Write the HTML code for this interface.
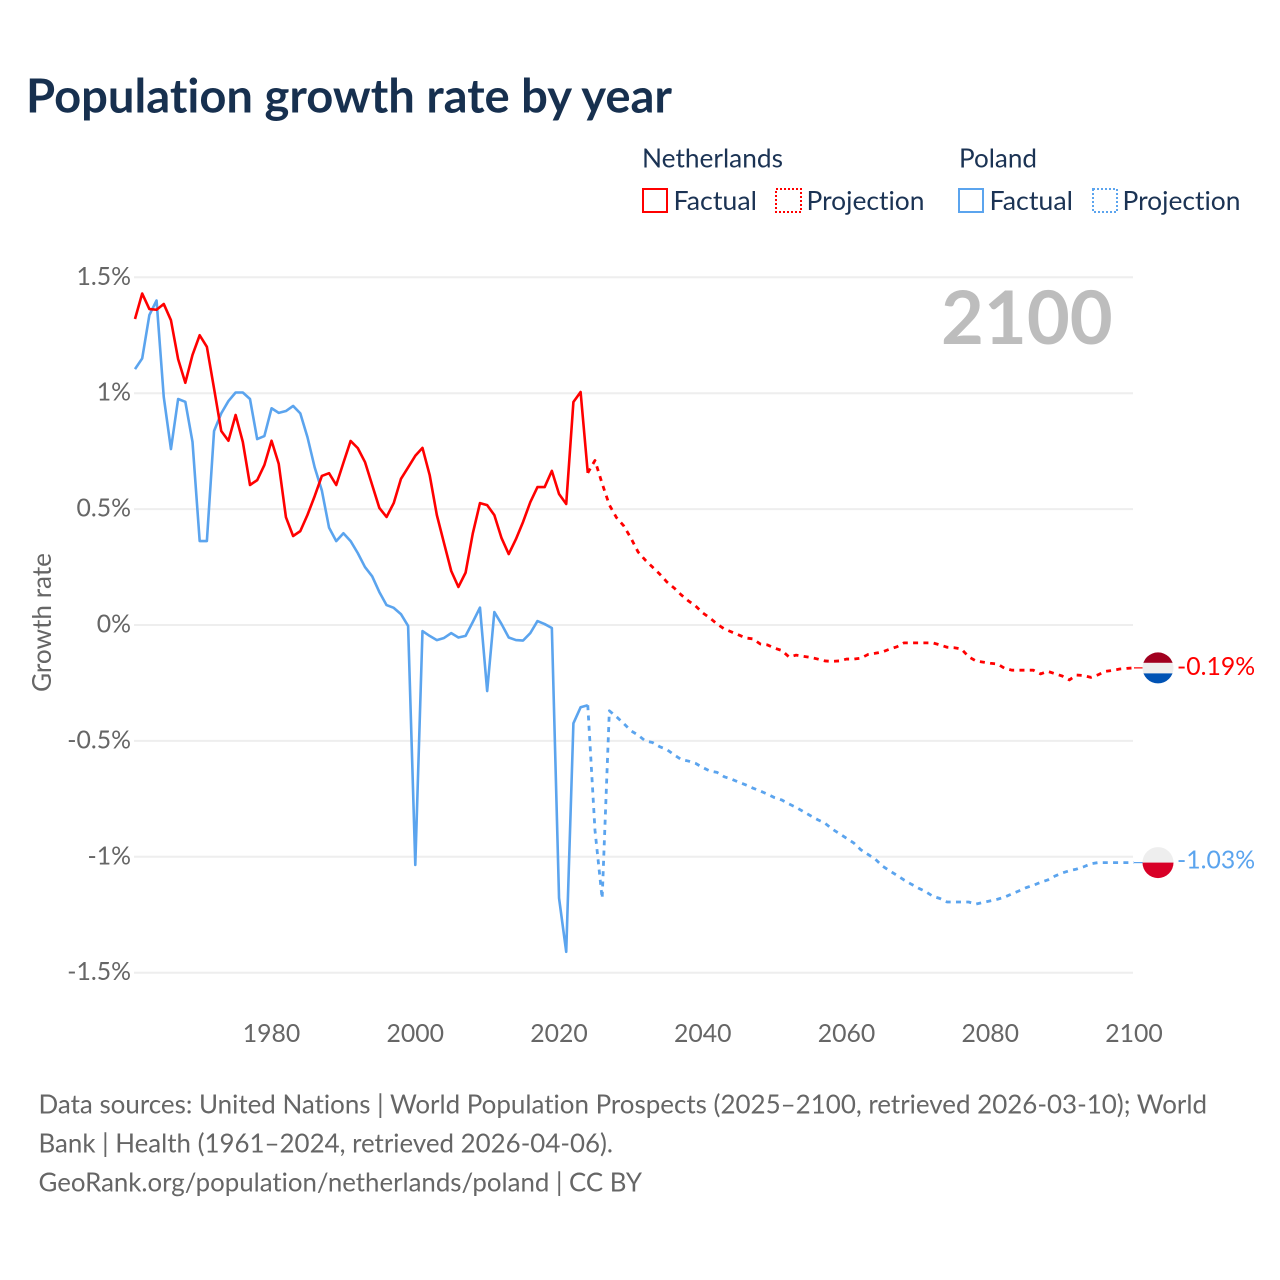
<!DOCTYPE html>
<html lang="en">
<head>
<meta charset="utf-8">
<title>Population growth rate by year</title>
<style>
html,body{margin:0;padding:0;background:#fff;}
svg{display:block;font-family:"Lato","Carlito","Liberation Sans",sans-serif;font-variant-ligatures:none;}
</style>
</head>
<body>
<svg id="chart" xmlns="http://www.w3.org/2000/svg" width="1280" height="1280" viewBox="0 0 1280 1280">
  <rect width="1280" height="1280" fill="#fff"/>
  <text x="26" y="112.5" font-size="47.2" font-weight="700" fill="#17304f" textLength="646" lengthAdjust="spacingAndGlyphs">Population growth rate by year</text>

  <g font-size="26.4" fill="#1b3354">
    <text x="642" y="167.5" textLength="141" lengthAdjust="spacingAndGlyphs">Netherlands</text>
    <rect x="643" y="189" width="24" height="23" fill="none" stroke="#ff0000" stroke-width="2"/>
    <text x="673.5" y="210" textLength="83.5" lengthAdjust="spacingAndGlyphs">Factual</text>
    <rect x="776" y="189" width="25" height="23" fill="none" stroke="#ff0000" stroke-width="2" stroke-dasharray="2 2"/>
    <text x="806.5" y="210" textLength="118" lengthAdjust="spacingAndGlyphs">Projection</text>
    <text x="959" y="167.5" textLength="78" lengthAdjust="spacingAndGlyphs">Poland</text>
    <rect x="959" y="189" width="24" height="23" fill="none" stroke="#5ba4ee" stroke-width="2"/>
    <text x="989.5" y="210" textLength="83.5" lengthAdjust="spacingAndGlyphs">Factual</text>
    <rect x="1093" y="189" width="24" height="23" fill="none" stroke="#5ba4ee" stroke-width="2" stroke-dasharray="2 2"/>
    <text x="1122.5" y="210" textLength="118" lengthAdjust="spacingAndGlyphs">Projection</text>
  </g>

  <g id="grid"></g>
  <g id="yticks" font-size="24.8" fill="#666"></g>
  <g id="xticks" font-size="24.8" fill="#666"></g>
  <text transform="translate(51,692) rotate(-90)" font-size="26.2" fill="#666" textLength="139" lengthAdjust="spacingAndGlyphs">Growth rate</text>
  <text x="941" y="344" font-size="74" font-weight="700" fill="#bdbdbd">2100</text>

  <g id="series"></g>

  <g id="nl-flag">
    <clipPath id="nl-clip"><circle cx="0" cy="0" r="15.5"/></clipPath>
    <g clip-path="url(#nl-clip)">
      <rect x="-16" y="-16" width="32" height="11" fill="#a1001f"/>
      <rect x="-16" y="-5" width="32" height="10.5" fill="#eeeeee"/>
      <rect x="-16" y="5.5" width="32" height="11" fill="#0052b4"/>
    </g>
  </g>
  <g id="pl-flag">
    <clipPath id="pl-clip"><circle cx="0" cy="0" r="15.5"/></clipPath>
    <g clip-path="url(#pl-clip)">
      <rect x="-16" y="-16" width="32" height="16" fill="#eeeeee"/>
      <rect x="-16" y="0" width="32" height="16" fill="#d80027"/>
    </g>
  </g>
  <text id="nl-end-label" x="1177" font-size="24.8" fill="#ff0000">-0.19%</text>
  <text id="pl-end-label" x="1177" font-size="24.8" fill="#5ba4ee">-1.03%</text>

  <g font-size="25.9" fill="#666">
    <text x="38.5" y="1113.5" textLength="1168.5" lengthAdjust="spacingAndGlyphs">Data sources: United Nations | World Population Prospects (2025–2100, retrieved 2026-03-10); World</text>
    <text x="38.5" y="1152.5" textLength="574.5" lengthAdjust="spacingAndGlyphs">Bank | Health (1961–2024, retrieved 2026-04-06).</text>
    <text x="38.5" y="1191.5" textLength="603.5" lengthAdjust="spacingAndGlyphs">GeoRank.org/population/netherlands/poland | CC BY</text>
  </g>
</svg>
<script>
const xTickYears = [1980, 2000, 2020, 2040, 2060, 2080, 2100];
const yTickValues = [1.5, 1, 0.5, 0, -0.5, -1, -1.5];
const yTickLabels = ["1.5%", "1%", "0.5%", "0%", "-0.5%", "-1%", "-1.5%"];
const factualStartYear = 1961;
const projectionStartYear = 2024;
const netherlandsFactual = [
  1.32,1.43,1.363,1.36,1.385,1.315,1.147,1.045,1.165,1.25,
  1.20,1.02,.837,.795,.906,.79,.604,.625,.69,.795,
  .695,.465,.384,.405,.475,.556,.643,.655,.604,.70,
  .794,.763,.703,.604,.505,.466,.526,.63,.68,.73,
  .764,.647,.474,.353,.233,.164,.226,.395,.526,.517,
  .474,.375,.306,.37,.445,.53,.595,.595,.665,.565,
  .522,.962,1.005,.656
];
const netherlandsProjection = [
  .656,.71,.61,.518,.463,.428,.375,.315,.28,.25,.22,.186,.16,.13,.104,.082,.052,.03,.004,-.017,
  -.03,-.043,-.056,-.06,-.082,-.086,-.10,-.11,-.138,-.13,-.135,-.14,-.147,-.155,-.157,-.155,-.147,-.147,-.143,-.127,
  -.122,-.116,-.104,-.094,-.077,-.077,-.077,-.077,-.077,-.086,-.096,-.098,-.104,-.137,-.155,-.16,-.165,-.168,-.187,-.195,
  -.195,-.195,-.195,-.211,-.2,-.21,-.22,-.237,-.216,-.218,-.226,-.215,-.2,-.196,-.19,-.187,-.185
];
const polandFactual = [
  1.104,1.15,1.337,1.40,.984,.759,.975,.963,.79,.362,
  .362,.837,.913,.966,1.003,1.003,.975,.802,.815,.935,
  .915,.923,.945,.913,.81,.68,.58,.42,.362,.396,
  .362,.31,.25,.21,.142,.086,.074,.047,-.004,-1.035,
  -.026,-.047,-.065,-.056,-.035,-.054,-.047,.013,.075,-.285,
  .056,.004,-.054,-.065,-.067,-.035,.017,.004,-.013,-1.178,
  -1.41,-.424,-.355,-.346
];
const polandProjection = [
  -.346,-.885,-1.18,-.37,-.396,-.425,-.456,-.475,-.5,-.507,-.525,-.537,-.56,-.58,-.587,-.597,-.615,-.63,-.636,-.655,
  -.665,-.678,-.69,-.704,-.716,-.73,-.745,-.755,-.772,-.787,-.805,-.823,-.84,-.855,-.88,-.90,-.92,-.94,-.97,-.99,
  -1.01,-1.04,-1.06,-1.08,-1.10,-1.118,-1.135,-1.15,-1.17,-1.18,-1.195,-1.195,-1.195,-1.195,-1.204,-1.197,-1.19,-1.183,-1.174,-1.16,
  -1.147,-1.133,-1.123,-1.11,-1.10,-1.083,-1.07,-1.06,-1.053,-1.043,-1.03,-1.025,-1.025,-1.025,-1.025,-1.025,-1.025
];

const SVG_NS = 'http://www.w3.org/2000/svg';
const xScale = year => 135 + (year - 1961) * (1134 - 135) / (2100 - 1961);
const yScale = value => 625 - value * 231.8;

function pathFrom(values, startYear) {
  return values.map((v, i) => (i ? 'L' : 'M') + xScale(startYear + i).toFixed(2) + ' ' + yScale(v).toFixed(2)).join(' ');
}

const gridGroup = document.getElementById('grid');
const yTickGroup = document.getElementById('yticks');
yTickValues.forEach((value, i) => {
  const line = document.createElementNS(SVG_NS, 'line');
  
  
  line.setAttribute('x1', 134);
  line.setAttribute('x2', 1133);
  line.setAttribute('y1', yScale(value));
  line.setAttribute('y2', yScale(value));
  line.setAttribute('stroke', '#eeeeee');
  line.setAttribute('stroke-width', 2);
  gridGroup.appendChild(line);

  const label = document.createElementNS(SVG_NS, 'text');
  
  
  label.setAttribute('x', 131);
  label.setAttribute('y', yScale(value) + 7.5);
  label.setAttribute('text-anchor', 'end');
  label.textContent = yTickLabels[i];
  yTickGroup.appendChild(label);
});

const xTickGroup = document.getElementById('xticks');
xTickYears.forEach(year => {
  const label = document.createElementNS(SVG_NS, 'text');
  
  
  label.setAttribute('x', xScale(year));
  label.setAttribute('y', 1042);
  label.setAttribute('text-anchor', 'middle');
  label.textContent = String(year);
  xTickGroup.appendChild(label);
});

const seriesGroup = document.getElementById('series');
const RED = '#ff0000';
const BLUE = '#5ba4ee';

function styleLine(el, color, width, dash) {
  el.setAttribute('fill', 'none');
  el.setAttribute('stroke', color);
  el.setAttribute('stroke-width', width);
  el.setAttribute('stroke-linejoin', 'round');
  if (dash) el.setAttribute('stroke-dasharray', dash);
  seriesGroup.appendChild(el);
}

const polandFactualLine = document.createElementNS(SVG_NS, 'path');


polandFactualLine.setAttribute('d', pathFrom(polandFactual, factualStartYear));
styleLine(polandFactualLine, BLUE, 2.6);

const polandProjectionLine = document.createElementNS(SVG_NS, 'path');


polandProjectionLine.setAttribute('d', pathFrom(polandProjection, projectionStartYear));
styleLine(polandProjectionLine, BLUE, 2.8, '5 5.3');

const netherlandsFactualLine = document.createElementNS(SVG_NS, 'path');


netherlandsFactualLine.setAttribute('d', pathFrom(netherlandsFactual, factualStartYear));
styleLine(netherlandsFactualLine, RED, 2.6);

const netherlandsProjectionLine = document.createElementNS(SVG_NS, 'path');


netherlandsProjectionLine.setAttribute('d', pathFrom(netherlandsProjection, projectionStartYear));
styleLine(netherlandsProjectionLine, RED, 2.8, '5 5.3');

const nlEndY = yScale(netherlandsProjection[netherlandsProjection.length - 1]);
const plEndY = yScale(polandProjection[polandProjection.length - 1]);

const nlLeader = document.createElementNS(SVG_NS, 'path');


nlLeader.setAttribute('d', 'M' + xScale(2100) + ' ' + nlEndY + ' H1143');
styleLine(nlLeader, RED, 1.2);

const plLeader = document.createElementNS(SVG_NS, 'path');


plLeader.setAttribute('d', 'M' + xScale(2100) + ' ' + plEndY + ' H1143');
styleLine(plLeader, BLUE, 1.2);

document.getElementById('nl-flag').setAttribute('transform', 'translate(1158,' + nlEndY + ')');
document.getElementById('pl-flag').setAttribute('transform', 'translate(1158,' + plEndY + ')');
document.getElementById('nl-end-label').setAttribute('y', nlEndY + 7);
document.getElementById('pl-end-label').setAttribute('y', plEndY + 6);
</script>
</body>
</html>
